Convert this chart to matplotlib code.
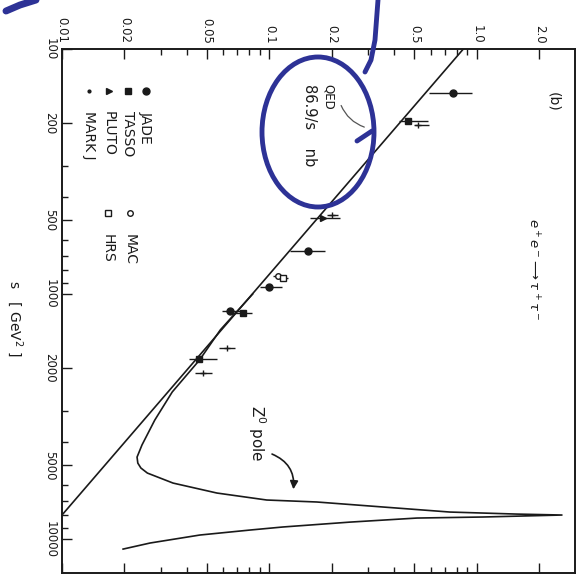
import matplotlib
matplotlib.use("Agg")
import matplotlib.pyplot as plt
from matplotlib.patches import Ellipse
import numpy as np

# ── DATA (read off the scanned, rotated figure) ─────────────
# x of the drawing = cross section [nb], y of the drawing = s [GeV^2]
qed_s     = [100, 7980]
qed_sigma = [0.86, 0.01]

zpole_s = [1000, 1400, 1860, 2510, 3270, 4130, 4630, 4900, 5130, 5380, 5910,
           6490, 6930, 7060, 7400, 7760, 7910, 7980, 8130, 8210, 8530,
           8930, 9190, 9630, 10380, 10990]
zpole_sigma = [0.083, 0.058, 0.046, 0.034, 0.028, 0.0243, 0.0230, 0.0232,
               0.0240, 0.0258, 0.0343, 0.0558, 0.097, 0.169, 0.352, 0.741,
               1.56, 2.57, 1.07, 0.514, 0.244, 0.116, 0.0805, 0.0462, 0.0266,
               0.0197]

jade_s     = [151, 667, 936, 1173]
jade_sigma = [0.77, 0.153, 0.100, 0.0645]
jade_lo    = [0.59, 0.126, 0.090, 0.059]
jade_hi    = [0.95, 0.185, 0.115, 0.072]

tasso_s     = [197, 1190, 1842]
tasso_sigma = [0.465, 0.0745, 0.046]
tasso_lo    = [0.42, 0.066, 0.041]
tasso_hi    = [0.58, 0.082, 0.056]

pluto_s     = [490]
pluto_sigma = [0.181]
pluto_lo    = [0.157]
pluto_hi    = [0.219]

markj_s     = [204, 476, 1661, 2100]
markj_sigma = [0.52, 0.200, 0.0624, 0.048]
markj_lo    = [0.50, 0.190, 0.057, 0.0438]
markj_hi    = [0.59, 0.215, 0.068, 0.053]

mac_s     = [845]
mac_sigma = [0.110]
mac_lo    = [0.104]
mac_hi    = [0.117]

hrs_s     = [860]
hrs_sigma = [0.116]
hrs_lo    = [0.109]
hrs_hi    = [0.123]

sigma_ticks  = [0.01, 0.02, 0.05, 0.1, 0.2, 0.5, 1.0, 2.0]
sigma_labels = ['0.01', '0.02', '0.05', '0.1', '0.2', '0.5', '1.0', '2.0']
s_ticks  = [100, 200, 500, 1000, 2000, 5000, 10000]
s_labels = ['100', '200', '500', '1000', '2000', '5000', '10000']

INK = '#1a1a1a'
BLUE = '#2d3296'
W, H = 587, 581

# ── FIGURE ──────────────────────────────────────────────────
fig = plt.figure(figsize=(W / 100, H / 100), dpi=100)
fig.patch.set_facecolor('white')
ax = fig.add_axes([62 / W, 1 - 573 / H, 513 / W, 524 / H])

ax.set_xscale('log')
ax.set_yscale('log')

# QED line and Z0 pole curve
ax.plot(qed_sigma, qed_s, color=INK, lw=1.2)
ax.plot(zpole_sigma, zpole_s, color=INK, lw=1.2)

# ── data points with error bars ──
def pts(s, sig, lo, hi, **kw):
    sig = np.array(sig)
    err = [sig - np.array(lo), np.array(hi) - sig]
    ax.errorbar(sig, s, xerr=err, fmt='none', ecolor=INK, elinewidth=1.0,
                capsize=0, zorder=3)
    ax.plot(sig, s, ls='none', zorder=4, **kw)

pts(jade_s, jade_sigma, jade_lo, jade_hi, marker='o', ms=5, color=INK)
pts(tasso_s, tasso_sigma, tasso_lo, tasso_hi, marker='s', ms=4.5, color=INK)
pts(pluto_s, pluto_sigma, pluto_lo, pluto_hi, marker='>', ms=5, color=INK)
pts(markj_s, markj_sigma, markj_lo, markj_hi, marker='+', ms=5, mew=1.0,
    color=INK)
pts(mac_s, mac_sigma, mac_lo, mac_hi, marker='o', ms=4, mfc='white',
    mec=INK, mew=1.0)
pts(hrs_s, hrs_sigma, hrs_lo, hrs_hi, marker='s', ms=4, mfc='white',
    mec=INK, mew=1.0)

# ── axes, ticks ──
minor_sigma = [m * d for d in [0.01, 0.1, 1.0] for m in [3, 4, 6, 7, 8, 9]]
minor_s = [m * d for d in [100, 1000] for m in [3, 4, 6, 7, 8, 9]]
ax.xaxis.tick_top()
ax.set_xticks(sigma_ticks)
ax.set_xticklabels(sigma_labels)
ax.set_xticks(minor_sigma, minor=True)
ax.set_xticklabels([], minor=True)
ax.set_yticks(s_ticks)
ax.set_yticklabels(s_labels)
ax.set_yticks(minor_s, minor=True)
ax.set_yticklabels([], minor=True)
# limits last, set_ticks would widen them
ax.set_xlim(0.01, 2.97)
ax.set_ylim(13760, 100)   # s grows downwards (figure is turned)

ax.tick_params(which='both', direction='in', top=True, bottom=True,
               left=True, right=False, labeltop=True, labelbottom=False,
               labelleft=True, colors=INK, width=1.0)
ax.tick_params(which='major', length=7, labelsize=8.5, pad=4)
ax.tick_params(which='minor', length=4)
for t in ax.get_xticklabels():
    t.set_rotation(270)
    t.set_va('bottom')
for t in ax.get_yticklabels():
    t.set_rotation(270)
    t.set_va('center')
for sp in ax.spines.values():
    sp.set_linewidth(1.4)
    sp.set_color(INK)

# ── annotations inside the plot ──
ax.annotate('', xy=(0.295, 210), xytext=(0.219, 166),
            arrowprops=dict(arrowstyle='-', color='#555555', lw=0.9,
                            connectionstyle='arc3,rad=0.25'))
ax.annotate('', xy=(0.130, 6430), xytext=(0.100, 4457),
            arrowprops=dict(arrowstyle='-|>', color=INK, lw=1.2,
                            mutation_scale=12,
                            connectionstyle='arc3,rad=-0.4'))

# ── overlay in pixel coordinates for labels and pen marks ──
ov = fig.add_axes([0, 0, 1, 1], zorder=10)
ov.set_xlim(0, W)
ov.set_ylim(H, 0)
ov.axis('off')
ov.patch.set_alpha(0)

txt = dict(rotation=270, ha='center', va='top', color=INK)
ov.text(328, 84, 'QED', fontsize=8.5, **txt)
ov.text(310, 84, '86.9/s    nb', fontsize=10.5, **txt)
ov.text(257, 405, 'Z$^0$ pole', fontsize=11, **txt)
ov.text(553, 92, '(b)', fontsize=10, **txt)
ov.text(533, 218, r'$e^+e^-\!\longrightarrow\tau^+\tau^-$', fontsize=9.5,
        **txt)
ov.text(15, 280, 's   [ GeV$^2$ ]', fontsize=10, **txt)

# legend
leg_names = ['JADE', 'TASSO', 'PLUTO', 'MARK J']
leg_x = [146, 128, 109, 89]
leg_mk = [dict(marker='o', ms=5, color=INK), dict(marker='s', ms=4.5, color=INK),
          dict(marker='>', ms=5, color=INK), dict(marker='.', ms=4, color=INK)]
for name, x, mk in zip(leg_names, leg_x, leg_mk):
    ov.plot([x], [91], ls='none', **mk)
    ov.text(x, 111, name, fontsize=10, **txt)
for name, x, mk in zip(['MAC', 'HRS'], [130, 108],
                       [dict(marker='o'), dict(marker='s')]):
    ov.plot([x], [213], ls='none', ms=4, mfc='white', mec=INK, mew=1.0, **mk)
    ov.text(x, 234, name, fontsize=10, **txt)

# blue pen marks on the scan
ov.plot([6, 20, 36], [11, 5, 0], color=BLUE, lw=5, solid_capstyle='round')
ov.plot([378, 375, 371, 365], [0, 40, 60, 72], color=BLUE, lw=3.5,
        solid_capstyle='round')
ov.add_patch(Ellipse((318, 132), 112, 150, fill=False, ec=BLUE, lw=3.5))
ov.plot([372, 357], [131, 141], color=BLUE, lw=3.5, solid_capstyle='round')

fig.savefig('out.png', dpi=100, facecolor='white')
